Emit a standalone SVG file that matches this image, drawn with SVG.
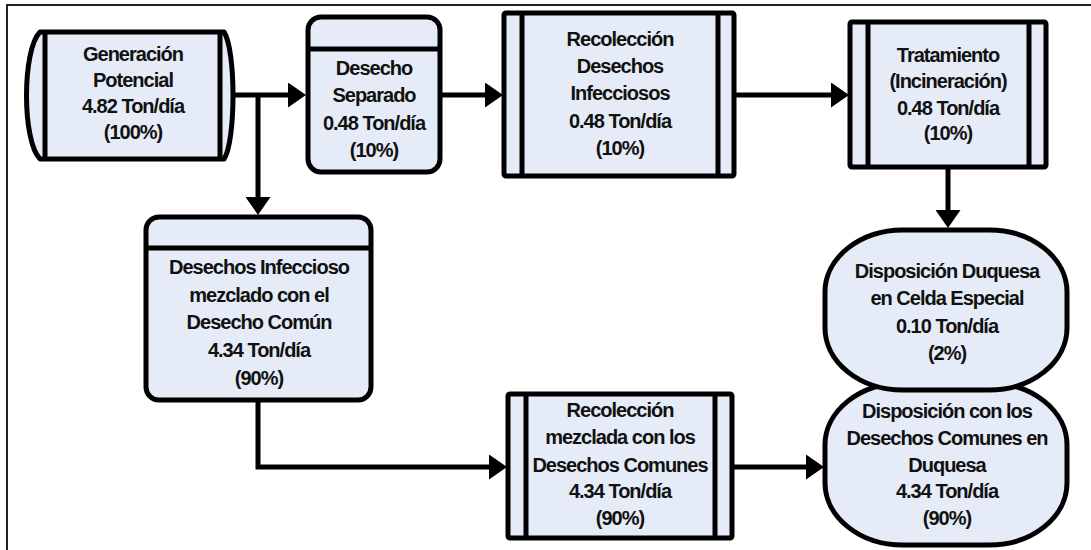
<svg xmlns="http://www.w3.org/2000/svg" width="1091" height="550" viewBox="0 0 1091 550">
  <style>
    .shape { fill: #e6ecf7; stroke: #000; stroke-width: 5; stroke-linejoin: round; }
    .bar { fill: none; stroke: #000; stroke-width: 5; }
    .link { fill: none; stroke: #000; stroke-width: 5; stroke-linejoin: miter; }
    .lbl { font-family: "Liberation Sans", Arial, sans-serif; font-weight: bold; font-size: 20px; letter-spacing: -1px; fill: #111; text-anchor: middle; }
  </style>
  <defs>
    <marker id="arrow" viewBox="0 -12.5 18 25" refX="2" refY="0" markerWidth="18" markerHeight="25" markerUnits="userSpaceOnUse" orient="auto">
      <path d="M0,-12.5 L18,0 L0,12.5 Z" fill="#000"/>
    </marker>
  </defs>

  <rect width="1091" height="550" fill="#fff"/>
  <!-- page frame (top and left edges) -->
  <path d="M7,551 V5 H1092" fill="none" stroke="#222" stroke-width="2"/>

  <!-- connectors -->
  <g id="connectors">
    <path class="link" d="M233,95 H290" marker-end="url(#arrow)"/>
    <path class="link" d="M258,95 V199" marker-end="url(#arrow)"/>
    <path class="link" d="M440,95 H487" marker-end="url(#arrow)"/>
    <path class="link" d="M734,95 H833" marker-end="url(#arrow)"/>
    <path class="link" d="M948,167 V212" marker-end="url(#arrow)"/>
    <path class="link" d="M258,400 V467 H491" marker-end="url(#arrow)"/>
    <path class="link" d="M732,467 H808" marker-end="url(#arrow)"/>
  </g>

  <!-- Generación Potencial -->
  <g id="generacion">
    <path class="shape" d="M40,32 H224 C236,50 236,141 224,159 H40 C22,141 22,50 40,32 Z"/>
    <path class="bar" d="M45,32 V159 M220,32 V159"/>
    <text class="lbl" x="133" y="61">Generación</text>
    <text class="lbl" x="133" y="87">Potencial</text>
    <text class="lbl" x="133" y="113">4.82 Ton/día</text>
    <text class="lbl" x="133" y="139">(100%)</text>
  </g>

  <!-- Desecho Separado -->
  <g id="desecho-separado">
    <rect class="shape" x="308" y="17" width="132" height="155" rx="13"/>
    <path class="bar" d="M308,49 H440"/>
    <text class="lbl" x="374" y="75">Desecho</text>
    <text class="lbl" x="374" y="102">Separado</text>
    <text class="lbl" x="374" y="130">0.48 Ton/día</text>
    <text class="lbl" x="374" y="157">(10%)</text>
  </g>

  <!-- Recolección Desechos Infecciosos -->
  <g id="recoleccion-infecciosos">
    <rect class="shape" x="504" y="13" width="230" height="163" rx="2"/>
    <path class="bar" d="M522,13 V176 M718,13 V176"/>
    <text class="lbl" x="620" y="46">Recolección</text>
    <text class="lbl" x="620" y="73">Desechos</text>
    <text class="lbl" x="620" y="100">Infecciosos</text>
    <text class="lbl" x="620" y="128">0.48 Ton/día</text>
    <text class="lbl" x="620" y="155">(10%)</text>
  </g>

  <!-- Tratamiento -->
  <g id="tratamiento">
    <rect class="shape" x="850" y="22" width="196" height="145" rx="2"/>
    <path class="bar" d="M868,22 V167 M1029,22 V167"/>
    <text class="lbl" x="948" y="62">Tratamiento</text>
    <text class="lbl" x="948" y="88">(Incineración)</text>
    <text class="lbl" x="948" y="115">0.48 Ton/día</text>
    <text class="lbl" x="948" y="140">(10%)</text>
  </g>

  <!-- Desechos Infeccioso mezclado -->
  <g id="desechos-mezclados">
    <rect class="shape" x="146" y="217" width="225" height="183" rx="13"/>
    <path class="bar" d="M146,248 H371"/>
    <text class="lbl" x="259" y="274">Desechos Infeccioso</text>
    <text class="lbl" x="259" y="302">mezclado con el</text>
    <text class="lbl" x="259" y="329">Desecho Común</text>
    <text class="lbl" x="259" y="357">4.34 Ton/día</text>
    <text class="lbl" x="259" y="385">(90%)</text>
  </g>

  <!-- Recolección mezclada -->
  <g id="recoleccion-mezclada">
    <rect class="shape" x="508" y="394" width="224" height="144" rx="2"/>
    <path class="bar" d="M526,394 V538 M715,394 V538"/>
    <text class="lbl" x="620" y="417">Recolección</text>
    <text class="lbl" x="620" y="444">mezclada con los</text>
    <text class="lbl" x="620" y="472">Desechos Comunes</text>
    <text class="lbl" x="620" y="498">4.34 Ton/día</text>
    <text class="lbl" x="620" y="525">(90%)</text>
  </g>

  <!-- Disposición con los Desechos Comunes -->
  <g id="disposicion-comunes">
    <rect class="shape" x="825" y="383" width="242" height="162" rx="78" ry="62"/>
    <text class="lbl" x="947" y="418">Disposición con los</text>
    <text class="lbl" x="947" y="445">Desechos Comunes en</text>
    <text class="lbl" x="947" y="472">Duquesa</text>
    <text class="lbl" x="947" y="498">4.34 Ton/día</text>
    <text class="lbl" x="947" y="525">(90%)</text>
  </g>

  <!-- Disposición Duquesa en Celda Especial -->
  <g id="disposicion-celda">
    <rect class="shape" x="825" y="230" width="242" height="160" rx="78" ry="62"/>
    <text class="lbl" x="947" y="278">Disposición Duquesa</text>
    <text class="lbl" x="947" y="305">en Celda Especial</text>
    <text class="lbl" x="947" y="333">0.10 Ton/día</text>
    <text class="lbl" x="947" y="360">(2%)</text>
  </g>
</svg>
